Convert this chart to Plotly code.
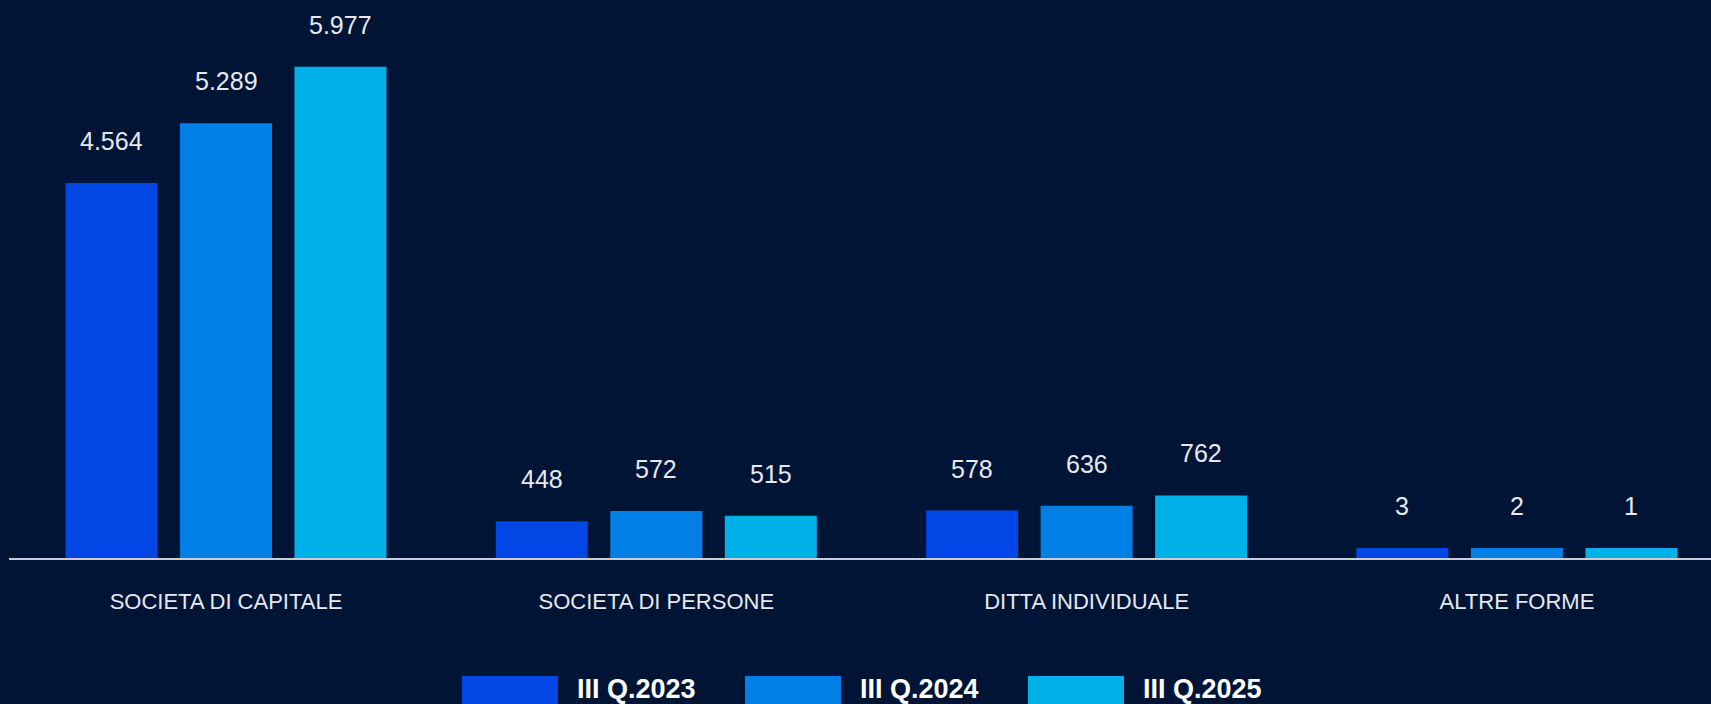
import plotly.graph_objects as go

# ---- data ----
categories = ["SOCIETA DI CAPITALE", "SOCIETA DI PERSONE", "DITTA INDIVIDUALE", "ALTRE FORME"]
series_names = ["III Q.2023", "III Q.2024", "III Q.2025"]
values_2023 = [4564, 448, 578, 3]
values_2024 = [5289, 572, 636, 2]
values_2025 = [5977, 515, 762, 1]
series_values = [values_2023, values_2024, values_2025]
colors = ["#0047e6", "#0080e6", "#00b1e9"]

# ---- styling / geometry ----
BG = "#001436"
TXT = "#e6e9ef"
FONT = "Liberation Sans, Arial, sans-serif"
W, H = 1711, 704
ML, MR, MT, MB = 9, 0, 0, 146
plot_w = W - ML - MR
plot_h = H - MT - MB
X0, X1 = -0.5043, 3.451
YMAX = 6790
px_x = plot_w / (X1 - X0)
px_y = plot_h / YMAX
bar_px = 92
step_px = 114.5
min_px = 10  # minimum visible bar height (styling)


def fmt(v):
    return f"{v:,}".replace(",", ".")


fig = go.Figure()
xs = list(range(len(categories)))
for s, (name, vals, col) in enumerate(zip(series_names, series_values, colors)):
    center = (s - (len(series_names) - 1) / 2) * step_px / px_x
    lw = [max(0.0, 2 * (min_px - v * px_y)) for v in vals]
    widths = [(bar_px - l) / px_x for l in lw]
    offsets = [center - w / 2 for w in widths]
    fig.add_trace(go.Bar(
        x=xs, y=vals, name=name, width=widths, offset=offsets,
        marker=dict(color=col, line=dict(color=col, width=lw)),
        showlegend=False,
        hovertemplate="%{y}<extra>" + name + "</extra>",
    ))
    for i, v in enumerate(vals):
        fig.add_annotation(
            x=xs[i] + center, y=v, xref="x", yref="y",
            yshift=42 + lw[i] / 2, text=fmt(v), showarrow=False,
            xanchor="center", yanchor="middle",
            font=dict(family=FONT, size=25, color=TXT),
        )

# ---- legend (custom swatches) ----
def paper_x(px):
    return (px - ML) / plot_w


def paper_y(py):
    return (MT + plot_h - py) / plot_h


for s, (name, col) in enumerate(zip(series_names, colors)):
    sx = 462 + s * 283
    fig.add_shape(type="rect", xref="paper", yref="paper",
                  x0=paper_x(sx), x1=paper_x(sx + 96),
                  y0=paper_y(676), y1=paper_y(716),
                  fillcolor=col, line=dict(width=0))
    fig.add_annotation(xref="paper", yref="paper",
                       x=paper_x(sx + 113), y=paper_y(689),
                       text="<b>" + name + "</b>", showarrow=False,
                       xanchor="left", yanchor="middle",
                       font=dict(family=FONT, size=27, color="#ffffff"))

fig.update_layout(
    width=W, height=H,
    margin=dict(l=ML, r=MR, t=MT, b=MB, pad=0),
    paper_bgcolor=BG, plot_bgcolor=BG,
    barmode="overlay",
    showlegend=False,
    xaxis=dict(
        range=[X0, X1], tickmode="array", tickvals=xs, ticktext=categories,
        showgrid=False, zeroline=False, showline=True,
        linecolor="#c8cdd6", linewidth=2, ticks="",
        ticklabelstandoff=23,
        tickfont=dict(family=FONT, size=22, color=TXT),
        fixedrange=True,
    ),
    yaxis=dict(range=[0, YMAX], visible=False, showgrid=False, zeroline=False,
               fixedrange=True),
)

fig.write_html(
    "out.html",
    config={"displayModeBar": False},
    post_script=(
        "document.body.style.margin='0';"
        "document.body.style.padding='0';"
        "document.body.style.overflow='hidden';"
        "document.body.style.background='" + BG + "';"
    ),
)
